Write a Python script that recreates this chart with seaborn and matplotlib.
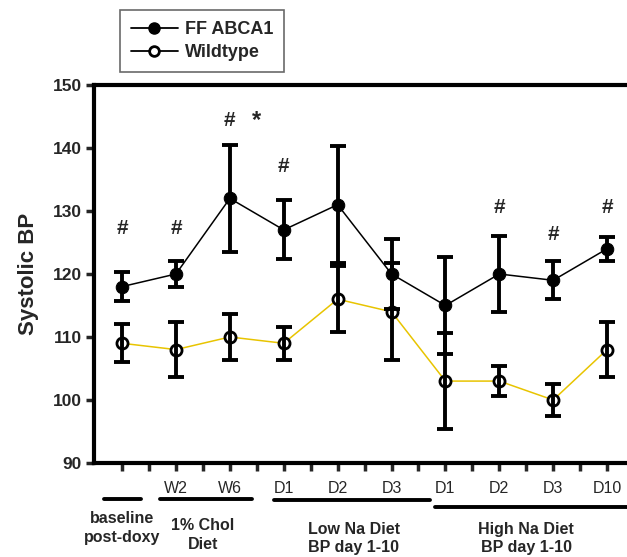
import numpy as np
import pandas as pd
import matplotlib
matplotlib.use("Agg")
import matplotlib.pyplot as plt
import matplotlib.transforms as mtransforms
from matplotlib.lines import Line2D
import seaborn as sns

# data
timepoints = ["", "W2", "W6", "D1", "D2", "D3", "D1", "D2", "D3", "D10"]
ff_mean = [118, 120, 132, 127, 131, 120, 115, 120, 119, 124]
ff_err = [2.3, 2.1, 8.5, 4.7, 9.3, 5.5, 7.7, 6.0, 3.0, 1.9]
wt_mean = [109, 108, 110, 109, 116, 114, 103, 103, 100, 108]
wt_err = [3.0, 4.4, 3.6, 2.6, 5.2, 7.7, 7.6, 2.4, 2.6, 4.4]
sig_pos = [0, 1, 2, 3, 7, 8, 9]
sig_y = [127.3, 127.3, 144.4, 137.1, 130.6, 126.3, 130.6]
star_pos = [2]
star_y = [144.4]
groups = ["baseline\npost-doxy", "1% Chol\nDiet", "Low Na Diet\nBP day 1-10", "High Na Diet\nBP day 1-10"]

sns.set_style("white")
plt.rcParams["font.family"] = ["Liberation Sans", "DejaVu Sans"]

df = pd.DataFrame({
    "pos": np.arange(len(timepoints)),
    "ff": ff_mean, "ff_err": ff_err,
    "wt": wt_mean, "wt_err": wt_err,
})

fig = plt.figure(figsize=(6.27, 5.57), dpi=100)
ax = fig.add_axes([0.15, 0.1688, 0.85, 0.6786])

# lines with markers
sns.lineplot(data=df, x="pos", y="wt", ax=ax, color="#e8c400", lw=1.1,
             marker="o", markersize=8, markerfacecolor="white",
             markeredgecolor="black", markeredgewidth=2, zorder=3)
sns.lineplot(data=df, x="pos", y="ff", ax=ax, color="black", lw=1.1,
             marker="o", markersize=9, markerfacecolor="black",
             markeredgecolor="black", zorder=3)

# error bars
ax.errorbar(df["pos"], df["wt"], yerr=df["wt_err"], fmt="none", ecolor="black",
            elinewidth=2.8, capsize=6, capthick=2.8, zorder=4)
ax.errorbar(df["pos"], df["ff"], yerr=df["ff_err"], fmt="none", ecolor="black",
            elinewidth=2.8, capsize=6, capthick=2.8, zorder=4)

# significance marks
for p, y in zip(sig_pos, sig_y):
    ax.text(p, y, "#", ha="center", va="center", fontsize=15, fontweight="bold")
for p, y in zip(star_pos, star_y):
    ax.text(p + 0.5, y, "*", ha="center", va="center", fontsize=17, fontweight="bold")

ax.set_xlim(-0.52, 9.37)
ax.set_ylim(90, 150)
ax.set_yticks(np.arange(90, 151, 10))
ax.set_yticklabels([str(v) for v in range(90, 151, 10)], fontsize=12.5, fontweight="bold")
ax.set_xticks(df["pos"])
ax.set_xticklabels(timepoints, fontsize=11.5)
ax.set_xticks(df["pos"][:-1] + 0.5, minor=True)
ax.tick_params(axis="x", which="both", direction="out", length=6, width=2.5, pad=7, bottom=True)
ax.tick_params(axis="y", direction="out", length=6, width=2.5, left=True, pad=3)
ax.set_xlabel("")
ax.set_ylabel("Systolic BP", fontsize=16, fontweight="bold", labelpad=10)

for s in ["left", "bottom", "top"]:
    ax.spines[s].set_linewidth(3)
    ax.spines[s].set_color("black")
ax.spines["right"].set_visible(False)

# group brackets below the axis
trans = mtransforms.blended_transform_factory(ax.transData, ax.transAxes)
spans = [(-0.33, 0.35), (0.70, 2.41), (2.82, 5.71), (5.81, 9.6)]
line_y = [-0.095, -0.095, -0.097, -0.116]
text_x = [0.0, 1.5, 4.3, 7.5]
text_y = [-0.172, -0.19, -0.2, -0.2]
for (x0, x1), ly, tx, ty, g in zip(spans, line_y, text_x, text_y, groups):
    ax.plot([x0, x1], [ly, ly], color="black", lw=2.8, transform=trans, clip_on=False)
    ax.text(tx, ty, g, transform=trans, ha="center", va="center",
            fontsize=11.5, fontweight="bold", linespacing=1.3)

# legend above the plot
handles = [
    Line2D([], [], color="black", lw=1.3, marker="o", markersize=8,
           markerfacecolor="black", markeredgecolor="black"),
    Line2D([], [], color="black", lw=1.3, marker="o", markersize=7,
           markerfacecolor="white", markeredgecolor="black", markeredgewidth=2),
]
leg = fig.legend(handles, ["FF ABCA1", "Wildtype"], loc="upper left",
                 bbox_to_anchor=(120 / 627, 1 - 10 / 557), frameon=True, fancybox=False,
                 edgecolor="#444444", handlelength=2.6, handletextpad=0.4,
                 prop={"weight": "bold", "size": 13}, borderpad=0.6, labelspacing=0.35,
                 borderaxespad=0)
leg.get_frame().set_linewidth(1.2)

fig.savefig("out.png", dpi=100)
